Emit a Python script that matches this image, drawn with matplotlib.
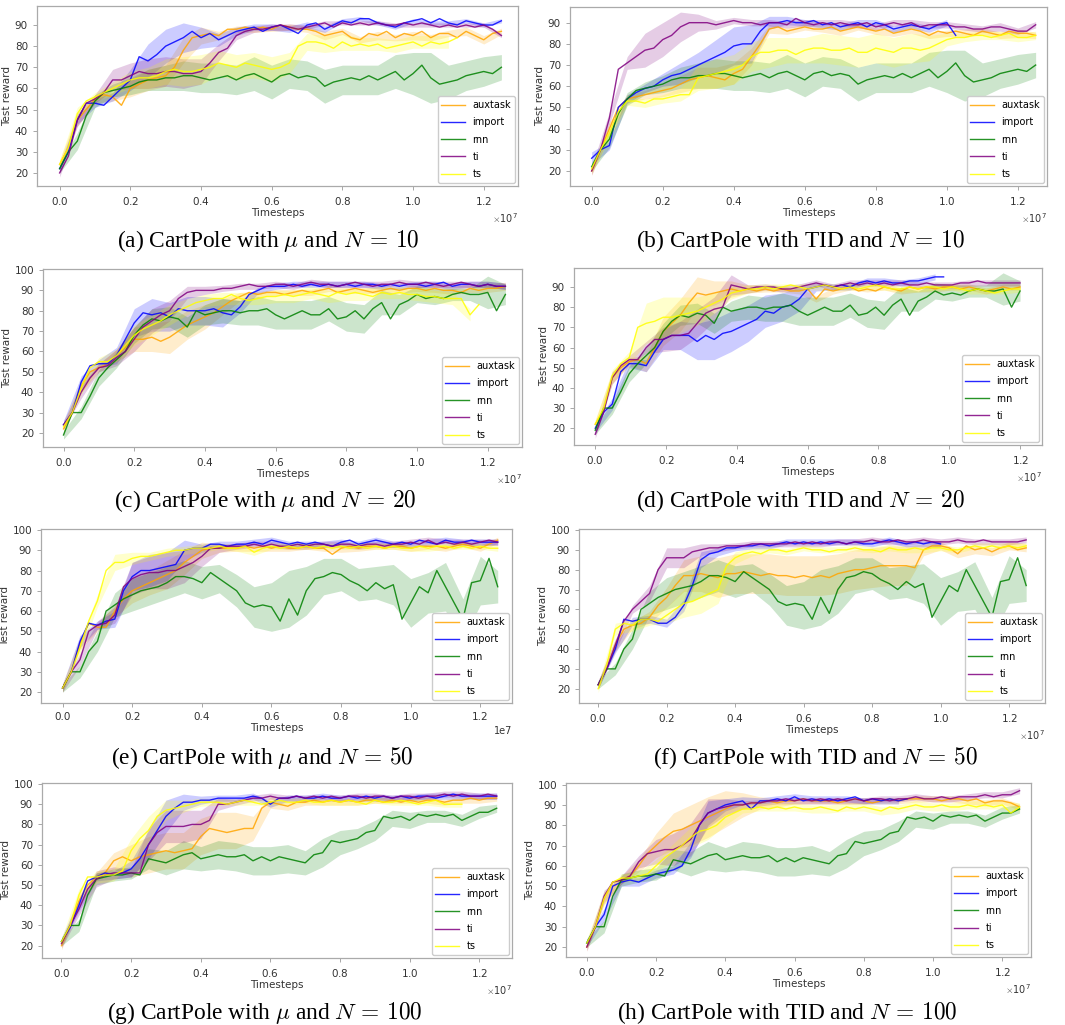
import numpy as np
import matplotlib
matplotlib.use("Agg")
import matplotlib.pyplot as plt
from matplotlib.ticker import MultipleLocator, ScalarFormatter

# ---- data (Test reward, one point every 0.025e7 steps) ----
labels = ["auxtask", "import", "rnn", "ti", "ts"]
colors = ["orange", "blue", "green", "purple", "yellow"]

# rnn is the same run in both columns of a row
rnn_10 = [22, 30, 35, 47, 54, 58, 59, 60, 61, 63, 64, 64, 65, 65, 66, 66, 65, 64, 65, 66,
          64, 66, 67, 65, 63, 66, 67, 65, 66, 65, 61, 63, 64, 65, 64, 66, 64, 66, 68, 64,
          67, 71, 65, 62, 63, 64, 66, 67, 68, 67, 70]
rnn_20 = [19, 30, 30, 38, 47, 52, 56, 60, 68, 73, 76, 75, 77, 76, 72, 80, 78, 79, 80, 80,
          79, 80, 80, 81, 78, 76, 78, 80, 78, 78, 81, 76, 77, 80, 76, 81, 84, 76, 83, 85,
          88, 86, 87, 86, 88, 89, 88, 88, 89, 80, 88]
rnn_50 = [22, 30, 30, 40, 45, 60, 63, 66, 68, 70, 71, 72, 74, 77, 77, 76, 74, 79, 76, 73,
          70, 64, 62, 63, 62, 55, 66, 58, 70, 76, 77, 79, 78, 75, 73, 70, 74, 71, 73, 56,
          64, 72, 69, 80, 72, 64, 56, 74, 75, 86, 72]
rnn_100 = [22, 30, 30, 45, 53, 54, 55, 55, 56, 55, 63, 62, 61, 63, 65, 66, 63, 64, 65, 64,
           64, 65, 62, 64, 62, 64, 63, 62, 61, 65, 66, 72, 71, 72, 73, 76, 77, 84, 83, 84,
           82, 85, 84, 85, 84, 85, 82, 84, 86, 86, 88]
# band half-widths, one value every 0.05e7
rnn_10_band = [2, 4, 3, 3, 4, 5, 6, 7, 7, 7, 7, 8, 8, 7, 7, 8, 7, 7, 7, 8, 10, 12, 8, 7, 7, 6]
rnn_20_band = [2, 3, 4, 4, 4, 5, 5, 5, 5, 6, 6, 7, 7, 7, 7, 6, 7, 7, 6, 5, 4, 4, 3, 3, 8, 5]
rnn_50_band = [2, 3, 5, 6, 8, 8, 8, 8, 8, 7, 8, 10, 12, 14, 12, 9, 8, 8, 8, 10, 12, 10, 12, 10, 12, 8]
rnn_100_band = [2, 3, 3, 3, 3, 5, 6, 7, 6, 7, 7, 7, 7, 7, 6, 7, 6, 5, 5, 4, 4, 3, 3, 3, 3, 2]

# (a) mu, N=10
a_aux = [24, 32, 45, 50, 55, 57, 56, 52, 60, 62, 64, 65, 66, 70, 78, 84, 85, 86, 85, 88,
         88, 89, 88, 89, 88, 90, 89, 88, 88, 87, 85, 86, 87, 84, 83, 86, 85, 87, 84, 86,
         85, 87, 84, 86, 86, 84, 87, 85, 83, 86, 87]
a_imp = [22, 30, 45, 53, 53, 52, 56, 60, 64, 75, 73, 76, 80, 82, 84, 87, 84, 86, 83, 85,
         87, 88, 89, 87, 89, 90, 88, 86, 90, 91, 88, 90, 92, 91, 93, 93, 91, 90, 89, 91,
         92, 93, 91, 93, 91, 90, 92, 91, 90, 90, 92]
a_ti = [20, 28, 45, 53, 55, 58, 64, 64, 66, 68, 67, 67, 68, 68, 67, 67, 68, 72, 77, 79,
        85, 87, 88, 88, 89, 90, 89, 88, 89, 90, 91, 89, 91, 90, 91, 90, 91, 90, 90, 91,
        90, 91, 90, 89, 90, 89, 90, 89, 90, 88, 85]
a_ts = [24, 32, 48, 54, 56, 58, 60, 62, 64, 65, 65, 66, 68, 69, 68, 68, 69, 70, 72, 71,
        70, 72, 71, 70, 69, 70, 72, 80, 82, 82, 81, 79, 82, 80, 81, 80, 81, 79, 80, 81,
        82, 80, 82, 81, 82, 84]
a_aux_band = [2, 3, 2, 2, 4, 5, 5, 6, 4, 2, 1.5, 1.5, 1, 1.5, 1.5, 2, 1.5, 1.5, 2, 1.5, 2, 1.5, 1.5, 2, 2, 1.5]
a_imp_band = [2, 2, 2, 2, 5, 8, 8, 7, 5, 3, 2, 1.5, 1.5, 1.5, 1.5, 1.5, 1, 1, 1, 1, 1, 1, 1, 1, 1, 1]
a_ti_band = [2, 3, 2, 5, 6, 7, 7, 7, 6, 4, 2, 1.5, 1.5, 1.5, 1, 1, 1, 1, 1, 1, 1, 1, 1, 1, 1, 1]
a_ts_band = [2, 3, 2, 3, 4, 5, 6, 7, 7, 6, 6, 6, 6, 5, 4, 4, 4, 3, 3, 3, 3, 3, 3]

# (b) TID, N=10
b_aux = [20, 30, 40, 50, 54, 55, 56, 57, 58, 59, 61, 63, 64, 65, 64, 63, 66, 68, 74, 80,
         87, 88, 86, 87, 88, 87, 87, 88, 86, 87, 88, 87, 86, 87, 85, 86, 87, 86, 84, 86,
         85, 86, 85, 84, 86, 85, 84, 86, 85, 85, 84]
b_imp = [26, 30, 32, 50, 54, 57, 59, 60, 63, 65, 66, 68, 70, 72, 74, 76, 79, 80, 80, 86,
         90, 90, 91, 90, 90, 91, 89, 90, 88, 89, 90, 88, 90, 89, 87, 88, 89, 88, 87, 89,
         90, 84]
b_ti = [20, 30, 45, 68, 71, 74, 77, 78, 82, 84, 88, 90, 90, 90, 89, 90, 91, 90, 90, 89,
        90, 90, 89, 92, 90, 89, 90, 89, 90, 89, 89, 90, 88, 89, 90, 89, 90, 88, 89, 89,
        89, 88, 88, 87, 87, 88, 88, 87, 86, 86, 89]
b_ts = [21, 30, 38, 48, 53, 53, 52, 54, 54, 55, 56, 56, 64, 65, 66, 67, 68, 70, 74, 76,
        76, 77, 77, 75, 77, 78, 78, 77, 77, 78, 76, 76, 78, 77, 76, 78, 78, 77, 78, 80,
        82, 83, 83, 84, 84, 83, 84, 85, 83, 83, 84]
b_aux_band = [2, 3, 2, 2, 3, 4, 5, 5, 5, 4, 2, 1.5, 1.5, 1.5, 2, 1.5, 1.5, 1.5, 2, 1.5, 1.5, 2, 1.5, 1.5, 2, 1.5]
b_imp_band = [3, 2, 2, 2, 3, 5, 6, 8, 9, 9, 3, 2, 1.5, 1.5, 1.5, 1.5, 1.5, 1.5, 1.5, 1.5, 1.5]
b_ti_band = [2, 3, 3, 8, 8, 7, 4, 2, 1.5, 1.5, 1.5, 1.5, 1.5, 1.5, 1.5, 1.5, 1.5, 1.5, 1.5, 1.5, 1.5, 1.5, 1.5, 2, 1.5, 1.5]
b_ts_band = [2, 3, 2, 2, 2, 3, 6, 7, 7, 7, 7, 6, 6, 7, 7, 7, 7, 7, 7, 6, 3, 2, 2, 2, 2, 2]

# (c) mu, N=20
c_aux = [22, 30, 43, 50, 52, 54, 58, 62, 66, 66, 67, 65, 67, 70, 73, 75, 77, 79, 82, 85,
         87, 89, 88, 89, 89, 88, 89, 90, 89, 90, 91, 89, 90, 91, 90, 89, 90, 91, 90, 91,
         91, 90, 91, 90, 90, 89, 91, 90, 91, 91, 92]
c_imp = [24, 30, 45, 53, 54, 54, 58, 66, 74, 79, 78, 79, 77, 81, 80, 80, 80, 81, 79, 78,
         82, 88, 90, 92, 92, 92, 93, 92, 93, 92, 93, 92, 93, 92, 93, 93, 92, 93, 92, 93,
         93, 92, 93, 94, 92, 93, 93, 92, 93, 92, 92]
c_ti = [24, 30, 40, 47, 52, 53, 57, 60, 66, 72, 75, 78, 80, 86, 89, 90, 90, 90, 91, 91,
        92, 93, 92, 92, 93, 93, 92, 93, 94, 93, 93, 92, 93, 94, 93, 92, 93, 93, 94, 93,
        93, 94, 93, 92, 93, 94, 93, 92, 93, 92, 92]
c_ts = [23, 30, 42, 52, 55, 55, 58, 63, 68, 71, 73, 75, 78, 80, 82, 84, 85, 86, 86, 88,
        86, 85, 86, 87, 87, 88, 87, 88, 89, 88, 87, 89, 88, 89, 88, 87, 89, 88, 89, 88,
        88, 87, 87, 86, 86, 86, 78, 83]
c_aux_band = [2, 3, 2, 3, 6, 7, 8, 7, 6, 4, 2, 1.5, 1.5, 1.5, 1.5, 1.5, 1.5, 1.5, 1.5, 1.5, 1.5, 2, 2, 2, 2, 2]
c_imp_band = [2, 3, 2, 4, 7, 8, 7, 7, 7, 7, 3, 1.5, 1.5, 1.5, 1.5, 1.5, 1.5, 1.5, 1.5, 1.5, 1.5, 1.5, 1.5, 1.5, 1.5, 1.5]
c_ti_band = [2, 3, 2, 4, 6, 6, 5, 3, 2, 1.5, 1.5, 1.5, 1.5, 1.5, 1.5, 1.5, 1.5, 1.5, 1.5, 1.5, 1.5, 1.5, 1.5, 1.5, 1.5, 1.5]
c_ts_band = [2, 3, 2, 3, 5, 5, 5, 4, 3, 3, 3, 3, 3, 3, 3, 3, 3, 3, 3, 3, 3, 3, 3, 3]

# (d) TID, N=20 (this run stops at 1.2e7, points every 0.024e7)
d_aux = [22, 29, 45, 50, 53, 54, 52, 60, 68, 72, 76, 82, 87, 86, 87, 88, 89, 88, 89, 88,
         89, 88, 89, 88, 88, 89, 84, 89, 88, 89, 90, 88, 89, 88, 90, 89, 88, 90, 89, 90,
         89, 90, 90, 89, 90, 89, 88, 89, 90, 89, 90]
d_imp = [20, 28, 32, 48, 52, 52, 51, 58, 64, 66, 66, 66, 63, 66, 64, 67, 68, 70, 72, 74,
         78, 77, 80, 81, 84, 89, 90, 91, 90, 91, 90, 92, 93, 92, 93, 92, 92, 93, 93, 94,
         95, 95]
d_ti = [17, 28, 45, 51, 54, 54, 60, 64, 64, 66, 66, 67, 72, 77, 79, 80, 91, 90, 89, 90,
        90, 90, 89, 89, 90, 91, 92, 91, 90, 91, 92, 91, 92, 91, 92, 91, 92, 91, 91, 92,
        91, 91, 91, 92, 92, 93, 92, 92, 92, 92, 92]
d_ts = [22, 30, 46, 52, 55, 70, 72, 73, 75, 75, 76, 77, 78, 80, 82, 84, 87, 88, 89, 89,
        90, 89, 90, 91, 90, 89, 90, 91, 90, 89, 90, 89, 90, 91, 90, 89, 89, 90, 89, 90,
        90, 89, 90, 89, 88, 89, 88, 87, 88, 89, 89]
d_aux_band = [2, 3, 2, 4, 7, 8, 8, 6, 4, 2, 1.5, 1.5, 1.5, 1.5, 1.5, 1.5, 1.5, 1.5, 1.5, 1.5, 1.5, 1.5, 1.5, 1.5, 1.5, 1.5]
d_imp_band = [2, 3, 2, 3, 5, 7, 9, 10, 10, 9, 8, 7, 6, 2, 1.5, 1.5, 1.5, 1.5, 1.5, 1.5, 1.5]
d_ti_band = [2, 3, 2, 3, 6, 7, 7, 6, 5, 2, 1.5, 1.5, 1.5, 1.5, 1.5, 1.5, 1.5, 1.5, 1.5, 1.5, 1.5, 1.5, 1.5, 1.5, 1.5, 1.5]
d_ts_band = [2, 3, 3, 10, 10, 9, 7, 5, 3, 2, 1.5, 1.5, 1.5, 1.5, 1.5, 1.5, 1.5, 1.5, 1.5, 1.5, 1.5, 1.5, 1.5, 1.5, 1.5, 1.5]

# (e) mu, N=50
e_aux = [22, 30, 44, 54, 52, 52, 60, 66, 70, 72, 74, 76, 78, 80, 84, 87, 90, 91, 91, 91,
         91, 92, 91, 92, 91, 92, 91, 91, 92, 91, 91, 88, 91, 92, 91, 92, 92, 91, 92, 92,
         91, 92, 92, 92, 91, 92, 93, 92, 91, 93, 95]
e_imp = [22, 30, 45, 54, 53, 55, 56, 70, 77, 80, 80, 81, 82, 83, 90, 91, 91, 93, 93, 92,
         93, 93, 94, 93, 95, 94, 93, 94, 93, 94, 93, 92, 94, 95, 93, 94, 95, 94, 93, 94,
         93, 95, 94, 93, 95, 94, 94, 95, 94, 94, 94]
e_ti = [22, 30, 36, 50, 53, 54, 58, 72, 76, 78, 79, 79, 80, 80, 82, 84, 87, 91, 91, 92,
        92, 92, 93, 92, 93, 92, 92, 93, 92, 93, 93, 92, 93, 93, 92, 93, 93, 92, 93, 93,
        94, 93, 95, 93, 94, 93, 94, 93, 94, 95, 94]
e_ts = [22, 30, 42, 55, 65, 80, 84, 84, 86, 87, 87, 88, 89, 90, 90, 91, 91, 91, 92, 91,
        91, 92, 89, 91, 92, 91, 92, 91, 92, 91, 92, 91, 92, 91, 92, 91, 92, 91, 92, 91,
        91, 92, 91, 92, 92, 91, 92, 91, 92, 91, 91]
e_aux_band = [2, 3, 2, 3, 6, 6, 7, 6, 4, 2, 1.5, 1.5, 1.5, 1.5, 1.5, 1.5, 2, 1.5, 1.5, 1.5, 1.5, 1.5, 1.5, 1.5, 1.5, 1.5]
e_imp_band = [2, 3, 2, 4, 7, 8, 7, 5, 2, 1.5, 1.5, 1.5, 1.5, 1.5, 1.5, 1.5, 1.5, 1.5, 1.5, 1.5, 1.5, 1.5, 1.5, 1.5, 1.5, 1.5]
e_ti_band = [2, 3, 2, 4, 8, 8, 9, 8, 5, 2, 1.5, 1.5, 1.5, 1.5, 1.5, 1.5, 1.5, 1.5, 1.5, 1.5, 1.5, 1.5, 1.5, 1.5, 1.5, 1.5]
e_ts_band = [2, 3, 3, 4, 3, 2, 2, 2, 2, 1.5, 1.5, 1.5, 1.5, 1.5, 1.5, 1.5, 1.5, 1.5, 1.5, 1.5, 1.5, 1.5, 1.5, 1.5, 1.5, 1.5]

# (f) TID, N=50
f_aux = [22, 30, 42, 50, 52, 53, 56, 62, 66, 72, 77, 77, 78, 77, 76, 78, 78, 79, 78, 77,
         78, 77, 77, 76, 77, 76, 77, 76, 78, 79, 80, 80, 81, 82, 82, 82, 82, 81, 90, 92,
         92, 91, 88, 92, 90, 91, 89, 91, 92, 90, 91]
f_imp = [22, 30, 40, 55, 54, 55, 55, 53, 53, 56, 62, 72, 85, 88, 89, 91, 91, 92, 92, 93,
         92, 93, 94, 93, 94, 93, 94, 93, 94, 93, 94, 93, 93, 94, 95, 94, 93, 94, 93, 94,
         93]
f_ti = [22, 30, 42, 54, 60, 64, 68, 80, 86, 86, 86, 89, 90, 91, 91, 92, 92, 92, 93, 93,
        93, 93, 93, 94, 93, 94, 93, 94, 94, 93, 94, 94, 95, 94, 94, 95, 94, 94, 95, 94,
        94, 94, 95, 94, 94, 95, 94, 94, 94, 94, 95]
f_ts = [20, 32, 50, 53, 52, 55, 55, 54, 57, 60, 63, 64, 66, 68, 70, 82, 86, 88, 89, 88,
        90, 90, 89, 90, 91, 90, 90, 89, 90, 90, 91, 90, 90, 89, 91, 90, 90, 91, 90, 91,
        91, 90, 90, 91, 92, 91, 92, 91, 92, 91, 92]
f_aux_band = [2, 3, 2, 3, 5, 8, 9, 10, 10, 10, 10, 10, 10, 10, 10, 10, 10, 10, 10, 3, 2, 2, 2, 2, 2, 2]
f_imp_band = [2, 2, 2, 2, 2, 3, 4, 2, 1.5, 1.5, 1.5, 1.5, 1.5, 1.5, 1.5, 1.5, 1.5, 1.5, 1.5, 1.5, 1.5]
f_ti_band = [2, 3, 2, 4, 5, 5, 3, 2, 1.5, 1.5, 1.5, 1.5, 1.5, 1.5, 1.5, 1.5, 1.5, 1.5, 1.5, 1.5, 1.5, 1.5, 1.5, 1.5, 1.5, 1.5]
f_ts_band = [2, 3, 3, 3, 4, 7, 8, 7, 3, 2, 1.5, 1.5, 1.5, 1.5, 1.5, 1.5, 1.5, 1.5, 1.5, 1.5, 1.5, 1.5, 1.5, 1.5, 1.5, 1.5]

# (g) mu, N=100
g_aux = [20, 30, 42, 50, 54, 56, 62, 64, 62, 64, 65, 66, 67, 66, 67, 68, 74, 78, 77, 76,
         77, 78, 78, 88, 91, 90, 89, 91, 91, 92, 91, 92, 91, 92, 91, 92, 92, 91, 92, 91,
         92, 91, 92, 92, 91, 92, 92, 93, 92, 93, 93]
g_imp = [22, 29, 40, 52, 54, 56, 55, 56, 58, 63, 70, 77, 84, 88, 91, 91, 92, 92, 93, 93,
         93, 93, 94, 93, 90, 93, 93, 94, 93, 93, 94, 93, 93, 94, 93, 94, 93, 94, 93, 94,
         93, 94, 94, 93, 94, 95, 94, 94, 94, 94, 94]
g_ti = [21, 30, 38, 48, 53, 55, 56, 56, 56, 56, 70, 76, 79, 79, 79, 80, 80, 82, 90, 90,
        91, 92, 93, 93, 94, 93, 93, 94, 93, 94, 93, 94, 93, 94, 94, 93, 94, 94, 93, 94,
        94, 93, 94, 94, 95, 94, 95, 94, 94, 95, 94]
g_ts = [22, 30, 45, 54, 54, 55, 55, 57, 67, 73, 77, 84, 87, 88, 89, 90, 91, 91, 91, 90,
        91, 92, 91, 90, 91, 92, 91, 91, 92, 91, 91, 92, 91, 92, 91, 90, 92, 91, 91, 92,
        91, 90, 91, 92, 90, 90, 90]
g_aux_band = [2, 3, 2, 4, 8, 9, 9, 9, 9, 9, 9, 6, 3, 2, 1.5, 1.5, 1.5, 1.5, 1.5, 1.5, 1.5, 1.5, 1.5, 1.5, 1.5, 1.5]
g_imp_band = [2, 3, 2, 2, 4, 7, 8, 4, 2, 1.5, 1.5, 1.5, 1.5, 1.5, 1.5, 1.5, 1.5, 1.5, 1.5, 1.5, 1.5, 1.5, 1.5, 1.5, 1.5, 1.5]
g_ti_band = [2, 3, 4, 3, 2, 8, 8, 8, 7, 3, 1.5, 1.5, 1.5, 1.5, 1.5, 1.5, 1.5, 1.5, 1.5, 1.5, 1.5, 1.5, 1.5, 1.5, 1.5, 1.5]
g_ts_band = [2, 3, 3, 3, 6, 7, 5, 3, 2, 1.5, 1.5, 1.5, 1.5, 1.5, 1.5, 1.5, 1.5, 1.5, 1.5, 1.5, 1.5, 1.5, 1.5, 1.5]

# (h) TID, N=100
h_aux = [20, 30, 44, 52, 53, 55, 60, 66, 70, 74, 77, 78, 80, 82, 84, 86, 88, 90, 90, 91,
         91, 92, 91, 92, 92, 93, 92, 92, 92, 91, 92, 93, 92, 91, 92, 93, 92, 93, 93, 93,
         93, 92, 93, 93, 92, 93, 91, 92, 92, 91, 89]
h_imp = [22, 30, 36, 50, 52, 53, 52, 54, 56, 57, 58, 60, 68, 80, 86, 88, 90, 91, 92, 88,
         92, 92, 93, 92, 94, 92, 93, 92, 93, 92, 93, 94, 92, 93, 92, 93, 92, 93]
h_ti = [20, 30, 45, 52, 53, 55, 62, 66, 67, 68, 68, 70, 73, 80, 86, 88, 89, 90, 90, 91,
        91, 92, 92, 93, 92, 93, 92, 93, 92, 93, 92, 93, 92, 93, 93, 92, 93, 93, 94, 93,
        93, 94, 93, 94, 94, 94, 95, 94, 95, 95, 97]
h_ts = [22, 30, 44, 52, 54, 54, 55, 56, 60, 64, 67, 70, 74, 77, 78, 80, 84, 86, 88, 88,
        89, 88, 89, 88, 89, 88, 88, 89, 88, 87, 89, 88, 89, 88, 87, 89, 88, 89, 90, 89,
        89, 90, 89, 89, 90, 89, 90, 89, 90, 86, 89]
h_aux_band = [2, 3, 2, 3, 6, 9, 10, 10, 9, 6, 3, 2, 1.5, 1.5, 1.5, 1.5, 1.5, 1.5, 1.5, 1.5, 1.5, 1.5, 1.5, 1.5, 1.5, 1.5]
h_imp_band = [2, 3, 2, 2, 2, 2, 4, 6, 3, 2, 1.5, 1.5, 1.5, 1.5, 1.5, 1.5, 1.5, 1.5, 1.5]
h_ti_band = [2, 3, 2, 3, 6, 8, 8, 7, 4, 2, 1.5, 1.5, 1.5, 1.5, 1.5, 1.5, 1.5, 1.5, 1.5, 1.5, 1.5, 1.5, 1.5, 1.5, 1.5, 1.5]
h_ts_band = [2, 3, 2, 2, 3, 4, 5, 5, 4, 2, 2, 2, 2, 2, 2, 2, 2, 2, 2, 2, 2, 2, 2, 2, 2, 2]

captions = [
    r"(a) CartPole with $\mu$ and $N\,=\,10$",
    r"(b) CartPole with TID and $N\,=\,10$",
    r"(c) CartPole with $\mu$ and $N\,=\,20$",
    r"(d) CartPole with TID and $N\,=\,20$",
    r"(e) CartPole with $\mu$ and $N\,=\,50$",
    r"(f) CartPole with TID and $N\,=\,50$",
    r"(g) CartPole with $\mu$ and $N\,=\,100$",
    r"(h) CartPole with TID and $N\,=\,100$",
]

panels = [
    ([a_aux, a_imp, rnn_10, a_ti, a_ts], [a_aux_band, a_imp_band, rnn_10_band, a_ti_band, a_ts_band]),
    ([b_aux, b_imp, rnn_10, b_ti, b_ts], [b_aux_band, b_imp_band, rnn_10_band, b_ti_band, b_ts_band]),
    ([c_aux, c_imp, rnn_20, c_ti, c_ts], [c_aux_band, c_imp_band, rnn_20_band, c_ti_band, c_ts_band]),
    ([d_aux, d_imp, rnn_20, d_ti, d_ts], [d_aux_band, d_imp_band, rnn_20_band, d_ti_band, d_ts_band]),
    ([e_aux, e_imp, rnn_50, e_ti, e_ts], [e_aux_band, e_imp_band, rnn_50_band, e_ti_band, e_ts_band]),
    ([f_aux, f_imp, rnn_50, f_ti, f_ts], [f_aux_band, f_imp_band, rnn_50_band, f_ti_band, f_ts_band]),
    ([g_aux, g_imp, rnn_100, g_ti, g_ts], [g_aux_band, g_imp_band, rnn_100_band, g_ti_band, g_ts_band]),
    ([h_aux, h_imp, rnn_100, h_ti, h_ts], [h_aux_band, h_imp_band, rnn_100_band, h_ti_band, h_ts_band]),
]

# ---- layout (pixel boxes of each axes in the 1065x1025 figure) ----
W, H = 1065, 1025
boxes = [(37, 6, 518, 186), (570, 7, 1047, 186),
         (43, 269, 522, 447), (574, 268, 1042, 445),
         (41, 529, 512, 703), (579, 529, 1045, 703),
         (42, 783, 512, 958), (566, 783, 1031, 957)]
caption_pos = [(268, 241), (800, 241), (265, 501), (800, 501),
               (262, 758), (815, 758), (265, 1013), (787, 1013)]
ylims = [(13.8, 99), (12.9, 97.4), (13.1, 100.5), (11.7, 99.4),
         (14.6, 100.5), (12.8, 100.5), (13.9, 100.5), (15.1, 100.8)]
xlims = [(-0.064, 1.297), (-0.061, 1.282), (-0.058, 1.297), (-0.06, 1.262),
         (-0.062, 1.291), (-0.056, 1.305), (-0.056, 1.294), (-0.06, 1.283)]
steps = [0.025, 0.025, 0.025, 0.024, 0.025, 0.025, 0.025, 0.025]

plt.rcParams["mathtext.fontset"] = "cm"
fig = plt.figure(figsize=(W / 100, H / 100), dpi=100)

for i, (series, bands) in enumerate(panels):
    l, t, r, b = boxes[i]
    ax = fig.add_axes([l / W, 1 - b / H, (r - l) / W, (b - t) / H])
    step = steps[i] * 1e7
    for y, band, c, lab in zip(series, bands, colors, labels):
        y = np.array(y, dtype=float)
        x = np.arange(len(y)) * step
        band = np.array(band, dtype=float)
        yc = y[::2][:len(band)]
        xb = x[::2][:len(band)]
        ax.fill_between(xb, yc - band, yc + band, color=c, alpha=0.2, lw=0)
        ax.plot(x, y, color=c, lw=1.0, alpha=0.85, label=lab)

    ax.set_xlim(xlims[i][0] * 1e7, xlims[i][1] * 1e7)
    ax.set_ylim(*ylims[i])
    ax.set_xticks(np.arange(0, 1.21, 0.2) * 1e7)
    ax.yaxis.set_major_locator(MultipleLocator(10))
    fmt = ScalarFormatter(useMathText=(i != 4))
    fmt.set_powerlimits((0, 0))
    ax.xaxis.set_major_formatter(fmt)
    ax.xaxis.get_offset_text().set_fontsize(7)
    ax.xaxis.get_offset_text().set_color("#333333")
    ax.tick_params(labelsize=7.5, colors="#333333", length=3, width=0.6)
    ax.tick_params(color="#999999")
    for s in ax.spines.values():
        s.set_color("#aaaaaa")
        s.set_linewidth(0.9)
    ax.set_xlabel("Timesteps", fontsize=7.5, color="#333333", labelpad=1)
    ax.set_ylabel("Test reward", fontsize=7.5, color="#333333", labelpad=2)
    ax.legend(loc="lower right", fontsize=7, labelspacing=0.75, handlelength=2.4,
              borderaxespad=0.3, edgecolor="#cccccc", framealpha=1)

    cx, cy = caption_pos[i]
    fig.text(cx / W, 1 - cy / H, captions[i], ha="center", va="center",
             fontsize=16.8, family="Liberation Serif")

fig.savefig("out.png", dpi=100)
